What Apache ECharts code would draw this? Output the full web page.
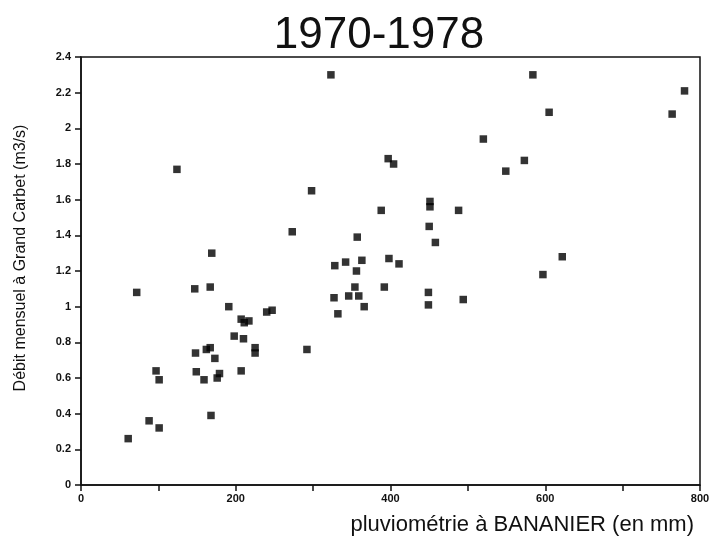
<!DOCTYPE html>
<html>
<head>
<meta charset="utf-8">
<script src="https://cdn.jsdelivr.net/npm/echarts@6/dist/echarts.min.js"></script>
<style>html,body{margin:0;padding:0;background:#fff}#c{width:714px;height:539px}</style>
</head>
<body>
<div id="c"></div>
<script>
const titleText = '1970-1978';
const xName = 'pluviométrie à BANANIER (en mm)';
const yName = 'Débit mensuel à Grand Carbet (m3/s)';
const rainfall = [61, 88, 101, 72, 97, 101, 124, 169, 147, 167, 148, 149, 159, 162, 167, 173, 176, 179, 168, 191, 198, 207, 210, 211, 217, 207, 225, 225, 240, 247, 273, 292, 298, 323, 327, 328, 332, 342, 346, 354, 357, 356, 359, 363, 366, 388, 392, 397, 398, 404, 411, 449, 449, 450, 451, 451, 458, 488, 494, 520, 549, 573, 584, 597, 605, 622, 764, 780];
const discharge = [0.26, 0.36, 0.32, 1.08, 0.64, 0.59, 1.77, 1.30, 1.10, 1.11, 0.74, 0.635, 0.59, 0.76, 0.77, 0.71, 0.60, 0.625, 0.39, 1.00, 0.835, 0.93, 0.82, 0.91, 0.92, 0.64, 0.77, 0.74, 0.97, 0.98, 1.42, 0.76, 1.65, 2.30, 1.05, 1.23, 0.96, 1.25, 1.06, 1.11, 1.39, 1.20, 1.06, 1.26, 1.00, 1.54, 1.11, 1.83, 1.27, 1.80, 1.24, 1.08, 1.01, 1.45, 1.56, 1.59, 1.36, 1.54, 1.04, 1.94, 1.76, 1.82, 2.30, 1.18, 2.09, 1.28, 2.08, 2.21];
const xLabeled = [0, 200, 400, 600, 800];

const points = rainfall.map((x, i) => [x, discharge[i]]);
const font = '"Liberation Sans", Arial, sans-serif';
const chart = echarts.init(document.getElementById('c'), null, {renderer: 'canvas'});
chart.setOption({
  animation: false,
  backgroundColor: '#fff',
  title: {
    text: titleText, left: 374, top: 9, textAlign: 'center',
    textStyle: {fontFamily: font, fontSize: 44, fontWeight: 'normal', color: '#111'}
  },
  grid: {left: 81, right: 14, top: 57, bottom: 54, show: true, borderColor: '#111', borderWidth: 1.5, backgroundColor: 'transparent'},
  xAxis: {
    type: 'value', min: 0, max: 800, interval: 100,
    name: xName, nameLocation: 'end', nameGap: -6,
    nameTextStyle: {fontFamily: font, fontSize: 22, color: '#111', align: 'right', verticalAlign: 'top', padding: [29, 0, 0, 0]},
    axisLine: {show: true, lineStyle: {color: '#111', width: 1.5}},
    axisTick: {show: true, inside: false, length: 6, lineStyle: {color: '#111', width: 1.5}},
    axisLabel: {fontFamily: font, fontSize: 11, fontWeight: 'bold', color: '#111', margin: 8,
      formatter: v => xLabeled.indexOf(v) >= 0 ? String(v) : ''},
    splitLine: {show: false}
  },
  yAxis: {
    type: 'value', min: 0, max: 2.4, interval: 0.2,
    name: yName, nameLocation: 'middle', nameGap: 52, nameRotate: 90,
    nameTextStyle: {fontFamily: font, fontSize: 16, color: '#111', padding: [0, 0, 0, 26]},
    axisLine: {show: true, lineStyle: {color: '#111', width: 1.5}},
    axisTick: {show: true, inside: false, length: 6, lineStyle: {color: '#111', width: 1.5}},
    axisLabel: {fontFamily: font, fontSize: 11, fontWeight: 'bold', color: '#111', margin: 10,
      formatter: v => String(Math.round(v * 10) / 10)},
    splitLine: {show: false}
  },
  series: [{
    type: 'scatter', data: points, symbol: 'rect', symbolSize: 7.5,
    itemStyle: {color: '#000'}
  }]
});
</script>
</body>
</html>
